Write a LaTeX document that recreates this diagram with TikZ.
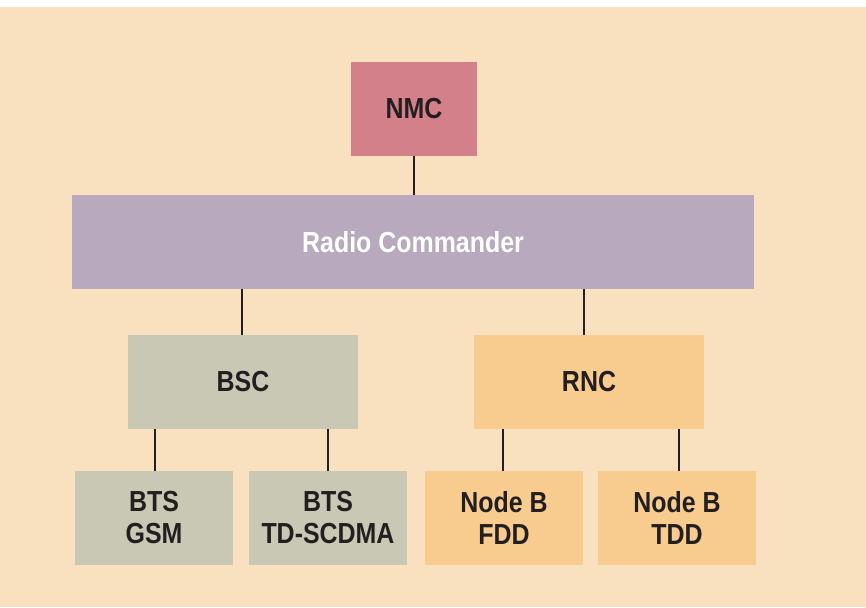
\documentclass[tikz,border=0pt]{standalone}
\usepackage{fontspec}
\setmainfont[FakeStretch=0.86]{Liberation Sans}
\definecolor{bgtan}{HTML}{F9E1BF}
\definecolor{nmcred}{HTML}{D4808A}
\definecolor{rcmauve}{HTML}{B8A9BE}
\definecolor{bscgrey}{HTML}{C9C8B4}
\definecolor{rncorange}{HTML}{F8CB8F}
\definecolor{inkblack}{HTML}{231F20}

\begin{document}
\begin{tikzpicture}[x=1pt,y=-1pt]

\tikzstyle{box}=[inner sep=0pt,align=center,font=\bfseries\fontsize{29}{32}\selectfont,text=inkblack]
\tikzstyle{link}=[draw=inkblack,line width=1.3pt]

% background
\fill[white](0,0)rectangle(866,607);
\fill[bgtan](0,7)rectangle(866,607);

\node[box,fill=nmcred,minimum width=126pt,minimum height=94pt](nmc)at(414,109){NMC};
\node[box,fill=rcmauve,minimum width=682pt,minimum height=94pt,text=white](rc)at(413,242){Radio Commander};
\node[box,fill=bscgrey,minimum width=230pt,minimum height=94pt](bsc)at(243,382){BSC};
\node[box,fill=rncorange,minimum width=230pt,minimum height=94pt](rnc)at(589,382){RNC};
\node[box,fill=bscgrey,minimum width=158pt,minimum height=94pt](gsm)at(154,518){BTS\\GSM};
\node[box,fill=bscgrey,minimum width=158pt,minimum height=94pt](tds)at(328,518){BTS\\TD-SCDMA};
\node[box,fill=rncorange,minimum width=158pt,minimum height=94pt](fdd)at(504,518){Node B\\FDD};
\node[box,fill=rncorange,minimum width=158pt,minimum height=94pt](tdd)at(677,518){Node B\\TDD};

\draw[link](nmc.south)--(nmc.south|-rc.north);
\draw[link](242,0|-rc.south)--(242,0|-bsc.north);
\draw[link](584,0|-rc.south)--(584,0|-rnc.north);
\draw[link](155,0|-bsc.south)--(155,0|-gsm.north);
\draw[link](328,0|-bsc.south)--(328,0|-tds.north);
\draw[link](503,0|-rnc.south)--(503,0|-fdd.north);
\draw[link](679,0|-rnc.south)--(679,0|-tdd.north);

\end{tikzpicture}
\end{document}
